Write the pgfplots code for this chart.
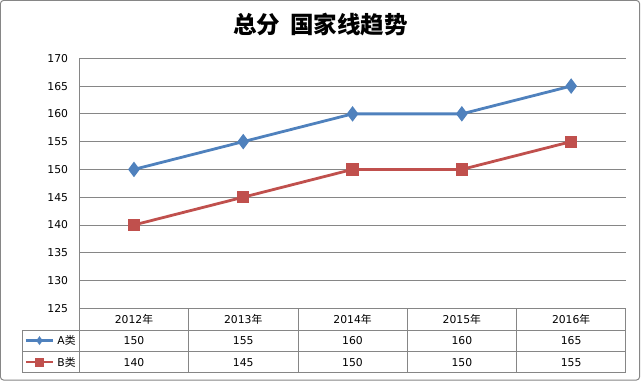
\documentclass[border=0pt]{standalone}
\usepackage{pgfplots}
\pgfplotsset{compat=1.18}
\usepackage{fontspec}
\setmainfont{DejaVu Sans}
\newfontfamily\cjk{Noto Sans CJK SC}
\definecolor{serA}{HTML}{4F81BD}
\definecolor{serB}{HTML}{C0504D}
\definecolor{gridc}{HTML}{868686}
\newcommand{\nian}{{\cjk 年}}
\newcommand{\lei}{{\cjk 类}}
\begin{document}
\begin{tikzpicture}[x=1pt,y=1pt]
\useasboundingbox (-79.3,-72.7) rectangle (561.7,308.3);
\begin{axis}[
  at={(0,0)}, anchor=south west,
  scale only axis, width=546.5pt, height=250pt,
  xmin=0.5, xmax=5.5, ymin=125, ymax=170,
  ytick={125,130,...,170},
  xtick=\empty,
  axis line style={draw=none},
  major tick length=0pt,
  ymajorgrids, grid style={gridc, line width=0.8pt},
  /pgf/number format/assume math mode=true,
  yticklabel style={font=\fontsize{10.8}{12}\selectfont, anchor=east, inner sep=0pt, xshift=-11pt},
  clip=false,
]
\addplot[serA, line width=2.8pt, mark=diamond*, mark size=5.5pt, mark options={solid}] coordinates {(1,150) (2,155) (3,160) (4,160) (5,165)};
\addplot[serB, line width=2.8pt, mark=square*, mark size=4.7pt, mark options={solid}] coordinates {(1,140) (2,145) (3,150) (4,150) (5,155)};
\end{axis}
% data table grid
\draw[gridc, line width=0.8pt] (0,0) -- (546.5,0);
\draw[gridc, line width=0.8pt] (-57,-21.7) -- (546.5,-21.7);
\draw[gridc, line width=0.8pt] (-57,-43.4) -- (546.5,-43.4);
\draw[gridc, line width=0.8pt] (-57,-64.4) -- (546.5,-64.4);
\draw[gridc, line width=0.8pt] (-57,-21.7) -- (-57,-64.4);
\draw[gridc, line width=0.8pt] (0,250) -- (0,-64.4);
\foreach \i in {1,...,5} {\draw[gridc, line width=0.8pt] (109.3*\i,0) -- (109.3*\i,-64.4);}
% header
\begin{scope}[every node/.style={font=\fontsize{10.8}{12}\selectfont, inner sep=0pt}]
\node at (54.65,-10.85) {2012\nian};
\node at (163.95,-10.85) {2013\nian};
\node at (273.25,-10.85) {2014\nian};
\node at (382.55,-10.85) {2015\nian};
\node at (491.85,-10.85) {2016\nian};
\node at (54.65,-32.55) {150};
\node at (163.95,-32.55) {155};
\node at (273.25,-32.55) {160};
\node at (382.55,-32.55) {160};
\node at (491.85,-32.55) {165};
\node at (54.65,-53.9) {140};
\node at (163.95,-53.9) {145};
\node at (273.25,-53.9) {150};
\node at (382.55,-53.9) {150};
\node at (491.85,-53.9) {155};
\node[anchor=east] at (-3.5,-32.55) {A\lei};
\node[anchor=east] at (-3.5,-53.9) {B\lei};
\end{scope}
% legend keys
\draw[serA, line width=2.8pt] (-53.3,-32.3) -- (-26.3,-32.3);
\fill[serA] (-39.8,-36.8) -- (-36.6,-32.3) -- (-39.8,-27.8) -- (-43,-32.3) -- cycle;
\draw[serB, line width=2.8pt] (-53.3,-53.7) -- (-26.3,-53.7);
\fill[serB] (-44.3,-58.2) rectangle (-35.3,-49.2);
% title
\node[font=\cjk\bfseries\fontsize{23.5}{28}\selectfont, inner sep=0pt] at (241.2,283.3) {总分\hspace{10pt}国家线趋势};
% border
\draw[gridc, line width=1pt, rounded corners=3pt] (-78.8,-71.7) rectangle (560.2,307.8);
\end{tikzpicture}
\end{document}
